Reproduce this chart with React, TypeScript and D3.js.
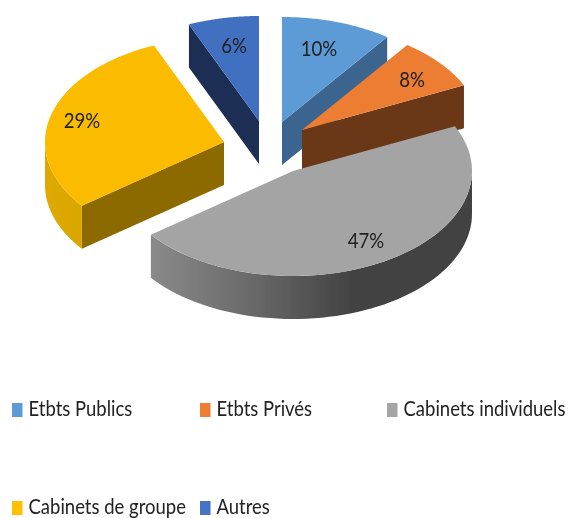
import React from "react";
import { pie as d3pie, line as d3line, range as d3range, scaleLinear } from "d3";

const categories = ["Etbts Publics", "Etbts Privés", "Cabinets individuels", "Cabinets de groupe", "Autres"];
const shares = [10, 8, 46.6, 29, 6.4];
const labels = ["10%", "8%", "47%", "29%", "6%"];

const topColors = ["#5b9bd5", "#ed7d31", "#a4a4a4", "#fbbc00", "#4270c0"];
const cutColors = ["#3a658f", "#6b3715", "#444444", "#8c6a00", "#1a2d52"];
const swatchColors = ["#5b9bd5", "#ed7d31", "#a5a5a5", "#ffc000", "#4472c4"];
const apexes: [number, number][] = [[282, 122], [302, 130], [293, 171], [224, 142], [259, 121]];
const labelSpots: [number, number][] = [[319, 55], [412, 86], [366, 247], [82, 127], [234, 52]];
const legendSpots: [number, number][] = [[12, 403], [200, 403], [387, 403], [12, 501], [200, 501]];
const drawOrder = [4, 0, 1, 3, 2];

const RX = 179;
const RY = 105;
const DEPTH = 43;

const arcs = d3pie<number>().value((d) => d).sort(null)(shares);
const pt = d3line<[number, number]>();

function project(i: number, a: number, drop = 0): [number, number] {
  const [cx, cy] = apexes[i];
  const sx = scaleLinear().domain([-1, 1]).range([cx - RX, cx + RX]);
  const sy = scaleLinear().domain([-1, 1]).range([cy + RY, cy - RY]);
  return [sx(Math.sin(a)), sy(Math.cos(a)) + drop];
}

function sweep(i: number, a0: number, a1: number, drop = 0): [number, number][] {
  const n = 60;
  return d3range(n + 1).map((k) => project(i, a0 + ((a1 - a0) * k) / n, drop));
}

export default function App() {
  return (
    <svg
      width={569}
      height={518}
      viewBox="0 0 569 518"
      style={{ position: "absolute", left: 0, top: 0, background: "#fff" }}
      fontFamily="Lato, 'Open Sans', sans-serif"
    >
      <defs>
        <linearGradient id="grayWall" gradientUnits="userSpaceOnUse" x1={150} x2={350} y1={0} y2={0}>
          <stop offset="0" stopColor="#8a8a8a" />
          <stop offset="0.5" stopColor="#6a6a6a" />
          <stop offset="1" stopColor="#434343" />
        </linearGradient>
        <linearGradient id="yellowWall" gradientUnits="userSpaceOnUse" x1={44} x2={83} y1={0} y2={0}>
          <stop offset="0" stopColor="#dfa900" />
          <stop offset="1" stopColor="#d9a600" />
        </linearGradient>
        <filter id="soft" x="-5%" y="-5%" width="110%" height="110%">
          <feGaussianBlur stdDeviation="0.35" />
        </filter>
      </defs>
      <g filter="url(#soft)">
        {drawOrder.map((i) => {
          const { startAngle: s, endAngle: e } = arcs[i];
          const c: [number, number] = apexes[i];
          const top = [c, ...sweep(i, s, e)] as [number, number][];
          const wallFrom = Math.max(s, Math.PI / 2);
          const wallTo = Math.min(e, (3 * Math.PI) / 2);
          const wall =
            wallTo > wallFrom ? [...sweep(i, wallFrom, wallTo), ...sweep(i, wallTo, wallFrom, DEPTH)] : null;
          // the cut face that looks towards the viewer
          const cutAngle = i === 0 || i === 1 ? e : i === 3 || i === 4 ? s : null;
          const cut =
            cutAngle !== null
              ? ([c, project(i, cutAngle), project(i, cutAngle, DEPTH), [c[0], c[1] + DEPTH]] as [number, number][])
              : null;
          return (
            <g key={categories[i]}>
              {cut && <path d={pt(cut) + "Z"} fill={cutColors[i]} />}
              {wall && (
                <path
                  d={pt(wall) + "Z"}
                  fill={i === 2 ? "url(#grayWall)" : i === 3 ? "url(#yellowWall)" : cutColors[i]}
                />
              )}
              <path d={pt(top) + "Z"} fill={topColors[i]} />
            </g>
          );
        })}
        {labels.map((l, i) => (
          <text
            key={l}
            transform={`translate(${labelSpots[i][0]},${labelSpots[i][1] + 0.5}) scale(0.98,1.12)`}
            textAnchor="middle"
            fontSize={19}
            fill="#222"
          >
            {l}
          </text>
        ))}
        {categories.map((c, i) => (
          <g key={c}>
            <rect x={legendSpots[i][0]} y={legendSpots[i][1]} width={10.5} height={14} fill={swatchColors[i]} />
            <text
              transform={`translate(${legendSpots[i][0] + 16.5},${legendSpots[i][1] + 13}) scale(1,1.12)`}
              fontSize={18.5}
              fill="#222"
            >
              {c}
            </text>
          </g>
        ))}
      </g>
    </svg>
  );
}
